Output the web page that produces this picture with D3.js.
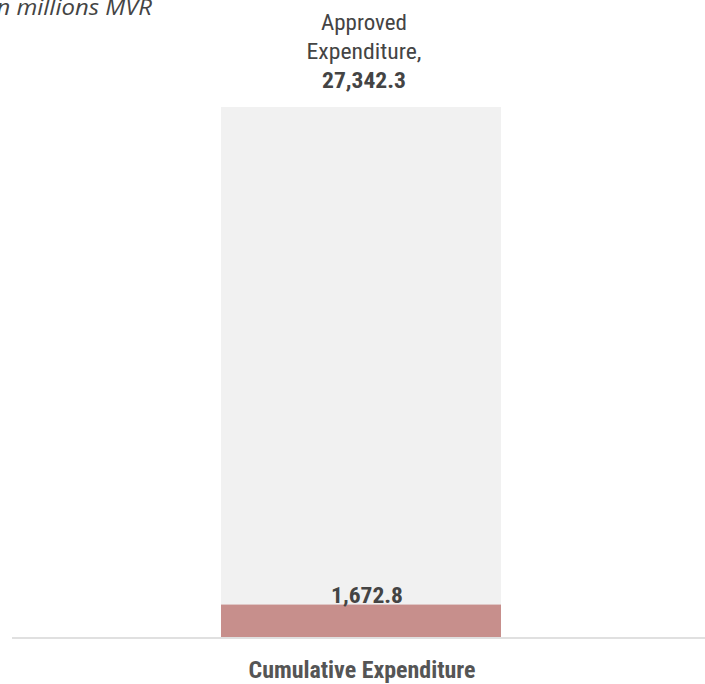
<html>
<head>
	<meta charset="UTF-8">
	<title>Cumulative Expenditure</title>
	<script src="https://cdn.jsdelivr.net/npm/d3@7"></script>
	<style>
		body {
			padding: 0;
			margin: 0;
			background: #fff;
		}
	</style>
</head>
<body>
	<script>
		// data
		var categories = ["Cumulative Expenditure"];
		var approved = [27342.3];
		var cumulative = [1672.8];
		var unitLabel = "In millions MVR";

		var w = 705,
			h = 684;
		// note: "top" is taken by window.top, so use other names
		var plotTop = 107, plotBottom = 637;

		var svg = d3.select("body").append("svg")
			.attr("width", w)
			.attr("height", h)
			.style("font-family", "'Roboto Condensed', Roboto, sans-serif");

		var x = d3.scaleBand()
			.domain(categories)
			.range([221, 501])
			.padding(0);

		var y = d3.scaleLinear()
			.domain([0, d3.max(approved)])
			.range([plotBottom, plotTop]);

		var fmt = d3.format(",.1f");

		// approved (background) bar
		svg.selectAll("rect.approved")
			.data(categories)
			.enter().append("rect")
			.attr("class", "approved")
			.attr("x", function (d) { return x(d); })
			.attr("width", x.bandwidth())
			.attr("y", function (d, i) { return y(approved[i]); })
			.attr("height", function (d, i) { return y(0) - y(approved[i]); })
			.attr("fill", "#f1f1f1");

		// cumulative bar
		svg.selectAll("rect.cum")
			.data(categories)
			.enter().append("rect")
			.attr("class", "cum")
			.attr("x", function (d) { return x(d); })
			.attr("width", x.bandwidth())
			.attr("y", function (d, i) { return y(cumulative[i]); })
			.attr("height", function (d, i) { return y(0) - y(cumulative[i]); })
			.attr("fill", "#c78f8c");

		// baseline
		svg.append("line")
			.attr("x1", 12).attr("x2", w)
			.attr("y1", plotBottom + 1).attr("y2", plotBottom + 1)
			.attr("stroke", "#e0e0e0")
			.attr("stroke-width", 2);

		// condensed look: squeeze roboto to the measured widths
		function label(px, py, txt, size, bold, len, col) {
			return svg.append("text")
				.attr("x", px)
				.attr("y", py)
				.attr("text-anchor", "middle")
				.attr("fill", col || "#444")
				.attr("textLength", len)
				.attr("lengthAdjust", "spacingAndGlyphs")
				.style("font-size", size + "px")
				.style("font-weight", bold ? "bold" : "normal")
				.text(txt);
		}

		categories.forEach(function (c, i) {
			var cx = x(c) + x.bandwidth() / 2;
			label(cx + 3, 30, "Approved", 22, false, 86);
			label(cx + 3, 59, "Expenditure,", 22, false, 115);
			label(cx + 3, 88, fmt(approved[i]), 22, true, 84);
			label(cx + 6, y(cumulative[i]) - 2, fmt(cumulative[i]), 22, true, 72);
			// category axis label
			label(cx + 1, 678, c, 23, true, 227, "#555");
		});

		// unit note, cut off at the top left
		svg.append("text")
			.attr("x", -10)
			.attr("y", 15)
			.attr("fill", "#444")
			.attr("textLength", 162)
			.attr("lengthAdjust", "spacingAndGlyphs")
			.style("font-family", "'Open Sans', sans-serif")
			.style("font-style", "italic")
			.style("font-size", "21px")
			.text(unitLabel);
	</script>
</body>
</html>
